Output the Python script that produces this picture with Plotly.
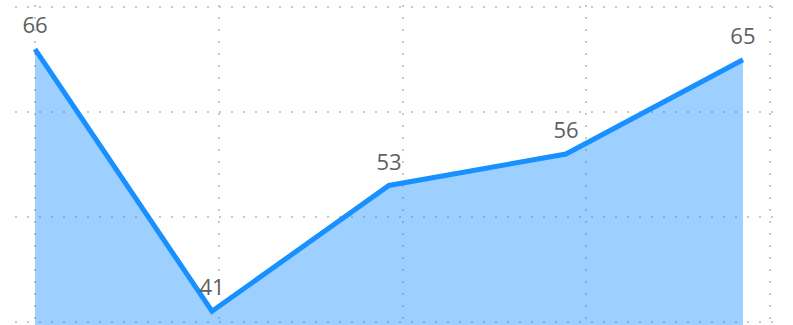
import numpy as np
import plotly.graph_objects as go

# Series
categories = [0, 1, 2, 3, 4]
values = [66, 41, 53, 56, 65]
labels = [str(v) for v in values]

LINE = "#1890ff"
FILL = "rgba(24,144,255,0.42)"
GRID = "#c8c8c8"

fig = go.Figure()
fig.add_trace(go.Scatter(
    x=categories,
    y=values,
    mode="lines+markers+text",
    text=labels,
    textposition="top center",
    textfont=dict(family="Open Sans, Noto Sans, sans-serif", size=22, color="#606060"),
    line=dict(color=LINE, width=5),
    marker=dict(size=15, opacity=0),
    fill="tozeroy",
    fillcolor=FILL,
    cliponaxis=False,
    hoverinfo="skip",
))

fig.update_layout(
    width=793,
    height=325,
    margin=dict(l=15, r=18, t=5, b=0),
    paper_bgcolor="white",
    plot_bgcolor="white",
    showlegend=False,
)

fig.update_xaxes(
    range=[-0.113, 4.181],
    tickvals=list(np.linspace(0, 4.153, 5)),
    showticklabels=False,
    showgrid=True,
    gridcolor=GRID,
    gridwidth=2,
    griddash="2px,10px",
    zeroline=False,
    showline=False,
    ticks="",
)
fig.update_yaxes(
    range=[39.685, 70.22],
    tickvals=[40, 50, 60, 70],
    showticklabels=False,
    showgrid=True,
    gridcolor=GRID,
    gridwidth=2,
    griddash="2px,10px",
    zeroline=False,
    showline=False,
    ticks="",
)

fig.write_html("out.html")
